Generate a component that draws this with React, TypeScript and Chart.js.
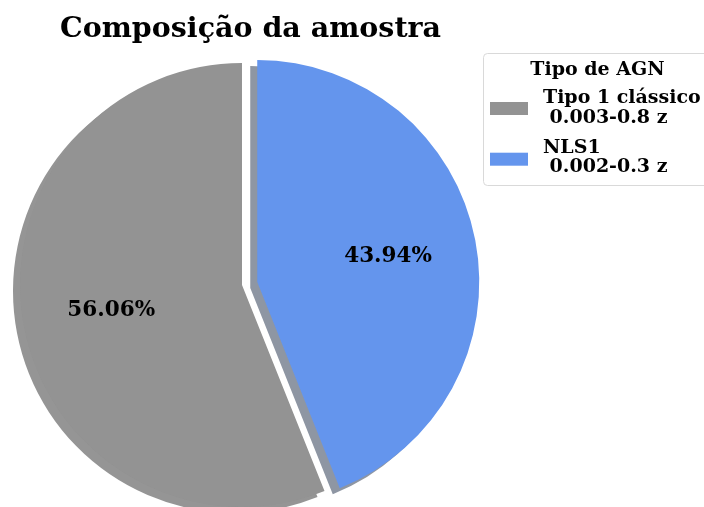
import React, { useEffect, useRef } from "react";
import { Chart, registerables } from "chart.js";

Chart.register(...registerables);

const chartTitle = "Composição da amostra";
const legendTitle = "Tipo de AGN";
const categories = ["Tipo 1 clássico\n 0.003-0.8 z", "NLS1\n 0.002-0.3 z"];
const shares = [56.06, 43.94];
const explode = [0, 0.07];
const sliceColors = ["#939393", "#6495ED"];
const shadowColors = ["rgba(44,44,44,0.5)", "rgba(30,45,71,0.5)"];

const SERIF = '"DejaVu Serif", serif';
const SHADOW_DX = -7;
const SHADOW_DY = 6;

function explodeDelta(el: any, i: number) {
  const mid = (el.startAngle + el.endAngle) / 2;
  const d = explode[i] * el.outerRadius;
  return { dx: Math.cos(mid) * d, dy: Math.sin(mid) * d, mid };
}

const piePlugin = {
  id: "explodeShadow",
  beforeDatasetsDraw(chart: any) {
    const ctx = chart.ctx;
    const meta = chart.getDatasetMeta(0);
    meta.data.forEach((el: any, i: number) => {
      const { dx, dy } = explodeDelta(el, i);
      const fake = Object.create(el);
      fake.options = { ...el.options, backgroundColor: shadowColors[i], borderWidth: 0, offset: 0 };
      ctx.save();
      ctx.translate(dx + SHADOW_DX, dy + SHADOW_DY);
      fake.draw(ctx);
      ctx.restore();
    });
    meta.data.forEach((el: any, i: number) => {
      const { dx, dy } = explodeDelta(el, i);
      const fake = Object.create(el);
      fake.options = { ...el.options, borderWidth: 0, offset: 0 };
      ctx.save();
      ctx.translate(dx, dy);
      fake.draw(ctx);
      ctx.restore();
    });
    return false;
  },
  afterDraw(chart: any) {
    const ctx = chart.ctx;
    const meta = chart.getDatasetMeta(0);
    ctx.save();
    // percentage labels
    ctx.fillStyle = "#000";
    ctx.font = `bold 21.5px ${SERIF}`;
    ctx.textAlign = "center";
    ctx.textBaseline = "middle";
    meta.data.forEach((el: any, i: number) => {
      const { dx, dy, mid } = explodeDelta(el, i);
      const r = el.outerRadius * 0.6;
      const x = el.x + dx + Math.cos(mid) * r;
      const y = el.y + dy + Math.sin(mid) * r;
      ctx.fillText(shares[i].toFixed(2) + "%", x, y);
    });

    // title
    ctx.font = `bold 28.5px ${SERIF}`;
    ctx.textAlign = "center";
    ctx.textBaseline = "alphabetic";
    ctx.fillText(chartTitle, 250.5, 37);

    // legend box
    const bx = 483.5, by = 53.5, bw = 230, bh = 132;
    ctx.beginPath();
    (ctx as any).roundRect(bx, by, bw, bh, 4);
    ctx.fillStyle = "rgba(255,255,255,0.8)";
    ctx.fill();
    ctx.strokeStyle = "#d9d9d9";
    ctx.lineWidth = 1;
    ctx.stroke();

    ctx.fillStyle = "#000";
    ctx.font = `bold 19px ${SERIF}`;
    ctx.textAlign = "center";
    ctx.fillText(legendTitle, 597.5, 75);

    const groupTop = [103, 152.7];
    const handleY = [102, 152.7];
    ctx.textAlign = "left";
    categories.forEach((label, i) => {
      ctx.fillStyle = sliceColors[i];
      ctx.fillRect(490, handleY[i], 38, 13);
      ctx.fillStyle = "#000";
      const lines = label.split("\n");
      lines.forEach((ln, j) => {
        ctx.fillText(ln, 543, groupTop[i] + j * 19.5);
      });
    });
    ctx.restore();
  },
};

export default function App() {
  const ref = useRef<HTMLCanvasElement | null>(null);
  useEffect(() => {
    if (!ref.current) return;
    const chart = new Chart(ref.current, {
      type: "pie",
      data: {
        labels: categories,
        datasets: [
          {
            data: shares,
            backgroundColor: sliceColors,
            borderWidth: 0,
          },
        ],
      },
      options: {
        animation: false,
        responsive: false,
        rotation: 158.18,
        radius: 222,
        layout: { padding: { left: 0, right: 220, top: 63, bottom: 0 } },
        plugins: {
          legend: { display: false },
          title: { display: false },
          tooltip: { enabled: false },
        },
        events: [],
      },
      plugins: [piePlugin],
    });
    return () => chart.destroy();
  }, []);
  return (
    <div style={{ position: "fixed", left: 0, top: 0, width: 704, height: 507, background: "#fff" }}>
      <canvas ref={ref} width={704} height={507} style={{ width: 704, height: 507 }} />
    </div>
  );
}
